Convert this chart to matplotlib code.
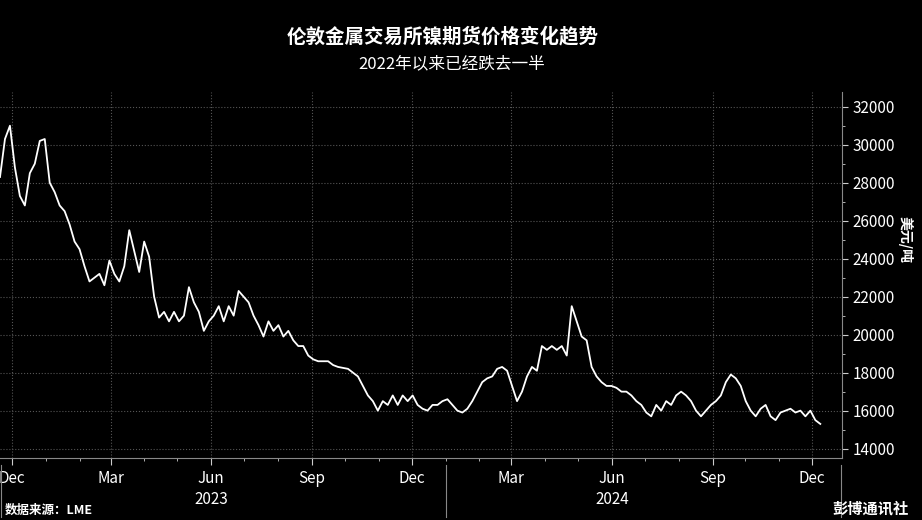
import matplotlib
matplotlib.use("Agg")
import matplotlib.pyplot as plt
import matplotlib.dates as mdates
import pandas as pd

plt.rcParams['font.family'] = ['Noto Sans CJK SC', 'DejaVu Sans']

title = "伦敦金属交易所镍期货价格变化趋势"
subtitle = "2022年以来已经跌去一半"
ylabel = "美元/吨"
source = "数据来源：LME"
brand = "彭博通讯社"

start_date = "2022-11-20"
prices = [28300, 30300, 31000, 28800, 27300, 26800, 28500, 29000, 30200, 30300,
          28000, 27500, 26800, 26500, 25800, 24900, 24500, 23600, 22800, 23000,
          23200, 22600, 23900, 23200, 22800, 23600, 25500, 24400, 23300, 24900,
          24100, 22000, 20900, 21200, 20700, 21200, 20700, 21000, 22500, 21700,
          21200, 20200, 20700, 21000, 21500, 20700, 21500, 21000, 22300, 22000,
          21700, 21000, 20500, 19900, 20700, 20200, 20500, 19900, 20200, 19700,
          19400, 19400, 18900, 18700, 18600, 18600, 18600, 18400, 18300, 18250,
          18200, 18000, 17800, 17300, 16800, 16500, 16000, 16500, 16300, 16800,
          16300, 16800, 16500, 16800, 16300, 16100, 16000, 16300, 16300, 16500,
          16600, 16300, 16000, 15900, 16100, 16500, 17000, 17500, 17700, 17800,
          18200, 18300, 18100, 17300, 16500, 17000, 17800, 18300, 18100, 19400,
          19200, 19400, 19200, 19400, 18900, 21500, 20700, 19900, 19700, 18300,
          17800, 17500, 17300, 17300, 17200, 17000, 17000, 16800, 16500, 16300,
          15900, 15700, 16300, 16000, 16500, 16300, 16800, 17000, 16800, 16500,
          16000, 15700, 16000, 16300, 16500, 16800, 17500, 17900, 17700, 17300,
          16500, 16000, 15700, 16100, 16300, 15700, 15500, 15900, 16000, 16100,
          15900, 16000, 15700, 16000, 15500, 15300]
dates = pd.date_range(start_date, periods=len(prices), freq="109h")

year_labels = ["2023", "2024"]
year_centers = ["2023-06-01", "2024-06-01"]

fig = plt.figure(figsize=(9.22, 5.2), dpi=100, facecolor="black")
ax = fig.add_axes([0.0, 0.119, 0.913, 0.705], facecolor="black")
ax.plot(dates, prices, color="white", lw=1.3)

ax.set_xlim(pd.Timestamp("2022-11-20"), pd.Timestamp("2024-12-28"))
ax.set_ylim(13500, 32800)
ax.yaxis.tick_right()
ax.set_yticks(range(14000, 32001, 2000))
ax.set_yticks(range(15000, 32000, 2000), minor=True)
ax.xaxis.set_major_locator(mdates.MonthLocator(bymonth=[3, 6, 9, 12]))
ax.xaxis.set_major_formatter(mdates.DateFormatter("%b"))
ax.xaxis.set_minor_locator(mdates.MonthLocator())
ax.tick_params(colors="#cccccc", labelsize=11, which="both")
ax.tick_params(axis="x", labelcolor="white", length=5)
ax.tick_params(axis="y", labelcolor="white", length=4)
ax.grid(True, which="major", color="#555555", ls=":", lw=0.8)
for s in ["top", "left"]:
    ax.spines[s].set_visible(False)
ax.spines["bottom"].set_color("#888888")
ax.spines["right"].set_color("#888888")

for lab, c in zip(year_labels, year_centers):
    ax.text(pd.Timestamp(c), -0.09, lab, transform=ax.get_xaxis_transform(),
            ha="center", va="top", color="white", fontsize=11)
for d in ["2022-11-21", "2024-01-01", "2024-12-27"]:
    ax.plot([pd.Timestamp(d)] * 2, [-0.02, -0.16], transform=ax.get_xaxis_transform(),
            color="#888888", lw=0.8, clip_on=False)

fig.text(0.982, 0.54, ylabel, rotation=270, color="white", fontsize=10,
         ha="center", va="center", fontweight="bold")
fig.text(0.48, 0.93, title, color="white", fontsize=14, fontweight="bold", ha="center", va="center")
fig.text(0.49, 0.878, subtitle, color="white", fontsize=12, ha="center", va="center")
fig.text(0.005, 0.018, source, color="white", fontsize=9, fontweight="bold", ha="left", va="center")
fig.text(0.985, 0.022, brand, color="white", fontsize=11, fontweight="bold", ha="right", va="center")

fig.savefig("out.png", dpi=100, facecolor="black")
